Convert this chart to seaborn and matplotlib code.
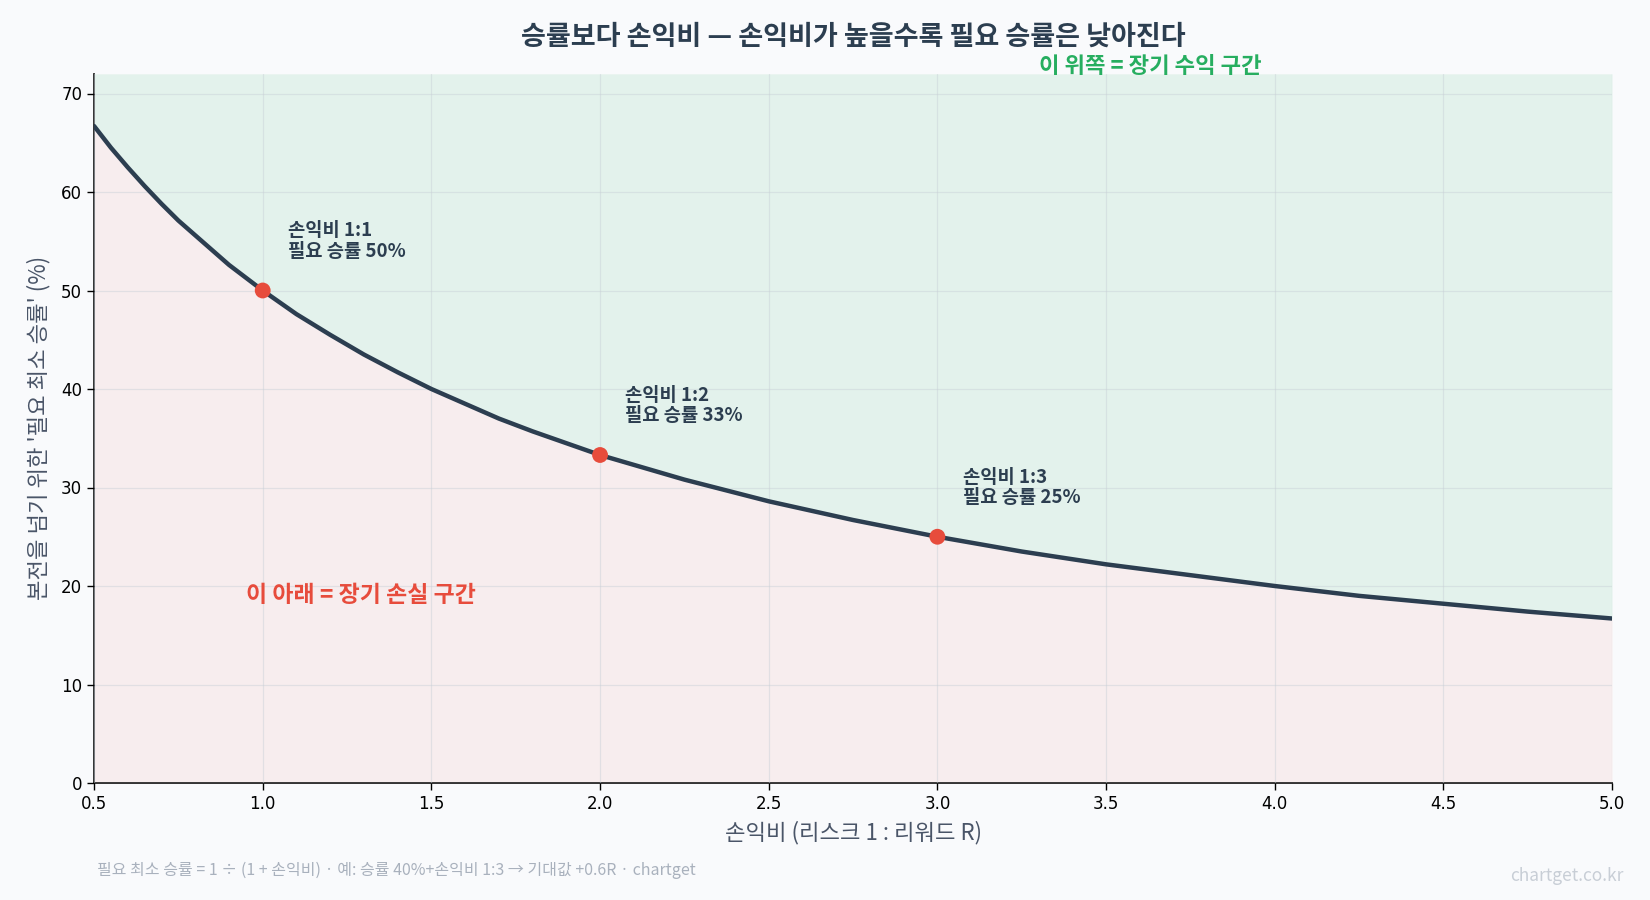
import matplotlib
matplotlib.use("Agg")
import matplotlib.pyplot as plt
import pandas as pd
import seaborn as sns

# reward multiple R (risk 1 : reward R) and break-even win rate (%)
ratio = [0.5, 0.55, 0.6, 0.65, 0.7, 0.75, 0.8, 0.85, 0.9, 0.95, 1.0,
         1.1, 1.2, 1.3, 1.4, 1.5, 1.6, 1.7, 1.8, 1.9, 2.0,
         2.25, 2.5, 2.75, 3.0, 3.25, 3.5, 3.75, 4.0, 4.25, 4.5, 4.75, 5.0]
win_rate = [66.7, 64.5, 62.5, 60.6, 58.8, 57.1, 55.6, 54.1, 52.6, 51.3, 50.0,
            47.6, 45.5, 43.5, 41.7, 40.0, 38.5, 37.0, 35.7, 34.5, 33.3,
            30.8, 28.6, 26.7, 25.0, 23.5, 22.2, 21.1, 20.0, 19.0, 18.2, 17.4, 16.7]

key_ratio = [1.0, 2.0, 3.0]
key_rate = [50.0, 33.3, 25.0]
key_labels = ["손익비 1:1\n필요 승률 50%", "손익비 1:2\n필요 승률 33%", "손익비 1:3\n필요 승률 25%"]

x_ticks = [0.5, 1.0, 1.5, 2.0, 2.5, 3.0, 3.5, 4.0, 4.5, 5.0]
y_ticks = [0, 10, 20, 30, 40, 50, 60, 70]

dark = "#2c3e50"
red = "#e74c3c"
green = "#27ae60"
bg = "#f9fafc"

sns.set_theme(style="white")
plt.rcParams["font.family"] = ["Noto Sans CJK KR", "DejaVu Sans"]
plt.rcParams["axes.unicode_minus"] = False

df = pd.DataFrame({"ratio": ratio, "rate": win_rate})
pts = pd.DataFrame({"ratio": key_ratio, "rate": key_rate})

fig = plt.figure(figsize=(16.5, 9), dpi=100, facecolor=bg)
ax = fig.add_axes([0.057, 0.130, 0.920, 0.788])
ax.set_facecolor(bg)

ymax = 72
ax.fill_between(df["ratio"], df["rate"], ymax, color=green, alpha=0.10, linewidth=0, zorder=1)
ax.fill_between(df["ratio"], 0, df["rate"], color=red, alpha=0.07, linewidth=0, zorder=1)

sns.lineplot(data=df, x="ratio", y="rate", ax=ax, color=dark, linewidth=3.2, zorder=3)
sns.scatterplot(data=pts, x="ratio", y="rate", ax=ax, color=red, s=130,
                edgecolor="none", zorder=4)

for xr, yr, lab in zip(key_ratio, key_rate, key_labels):
    ax.text(xr + 0.075, yr + 5, lab, fontsize=13.5, fontweight="bold", color=dark,
            ha="left", va="center", linespacing=1.1, zorder=5)

ax.text(3.3, 72.7, "이 위쪽 = 장기 수익 구간", color=green, fontsize=16,
        fontweight="bold", ha="left", va="center", clip_on=False)
ax.text(0.95, 19.0, "이 아래 = 장기 손실 구간", color=red, fontsize=16.5,
        fontweight="bold", ha="left", va="center")

ax.set_xlim(0.5, 5.0)
ax.set_ylim(0, ymax)
ax.set_xticks(x_ticks)
ax.set_xticklabels([f"{v:.1f}" for v in x_ticks], fontfamily="DejaVu Sans")
ax.set_yticks(y_ticks)
ax.set_yticklabels([str(v) for v in y_ticks], fontfamily="DejaVu Sans")
ax.tick_params(axis="both", labelsize=12, colors="black", length=5, width=1,
               direction="out", bottom=True, left=True)
ax.grid(True, color="#c8cfd6", alpha=0.45, linewidth=0.9)
ax.set_axisbelow(False)

for side in ["top", "right"]:
    ax.spines[side].set_visible(False)
for side in ["left", "bottom"]:
    ax.spines[side].set_color("#222222")
    ax.spines[side].set_linewidth(1.3)

ax.set_xlabel("손익비 (리스크 1 : 리워드 R)", fontsize=16, color="#4a5568", labelpad=6)
ax.set_ylabel("본전을 넘기 위한 '필요 최소 승률' (%)", fontsize=16, color="#4a5568", labelpad=8)
ax.set_title("승률보다 손익비 — 손익비가 높을수록 필요 승률은 낮아진다", fontsize=19.5,
             fontweight="bold", color=dark, pad=21)

fig.text(0.059, 0.033, "필요 최소 승률 = 1 ÷ (1 + 손익비) · 예: 승률 40%+손익비 1:3 → 기대값 +0.6R · chartget",
         fontsize=11.5, color="#a9b1bd", ha="left", va="center")
fig.text(0.984, 0.027, "chartget.co.kr", fontsize=12.5, color="#c8ced6", ha="right", va="center")

fig.savefig("out.png", dpi=100, facecolor=bg)
